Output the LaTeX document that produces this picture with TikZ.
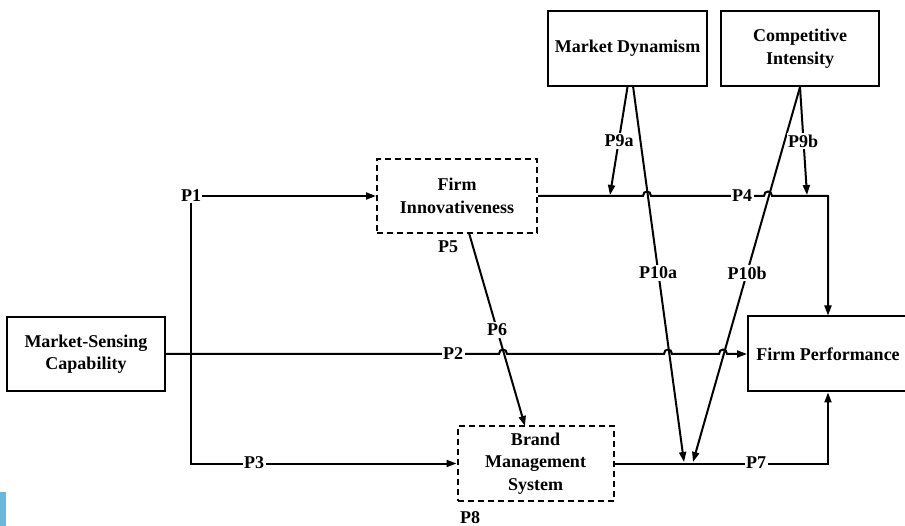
\documentclass[tikz,border=0pt]{standalone}
\usepackage{fontspec}
\setmainfont{Liberation Serif}
\usetikzlibrary{arrows.meta}
\definecolor{sidebar}{HTML}{6CB6DA}
\begin{document}
\begin{tikzpicture}[x=1pt,y=-1pt,
  txt/.style={font=\bfseries\fontsize{18}{22.5}\selectfont},
  box/.style={txt,draw,line width=2pt,align=center,minimum height=75pt,inner sep=0pt},
  dbox/.style={box,dash pattern=on 6pt off 4pt},
  lab/.style={txt,fill=white,inner sep=1.5pt},
  conn/.style={line width=2pt},
  arr/.style={conn,-{Triangle[length=10pt,width=7pt]}}]
\useasboundingbox (0,0) rectangle (905,526);
\clip (0,0) rectangle (905,526);
\fill[white] (0,0) rectangle (905,526);
\fill[sidebar] (0,492) rectangle (6,526);

% boxes
\node[box,minimum width=159pt] (md) at (627.5,48.5) {Market Dynamism};
\node[box,minimum width=158pt] (ci) at (800,48.5) {Competitive\\Intensity};
\node[dbox,minimum width=160pt,minimum height=74pt] (fi) at (457,196) {Firm\\Innovativeness};
\node[box,minimum width=158pt,minimum height=74pt] (ms) at (86,354) {Market-Sensing\\Capability};
\node[box,minimum width=160pt] (fp) at (828,354) {Firm Performance};
\node[dbox,minimum width=156pt] (bms) at (535.5,463.5) {Brand\\Management\\System};

% P1 junction label
\node[txt,inner sep=1pt] (p1) at (191,196) {P1};

% helper coordinates
\coordinate (p6s) at (469,233);
\coordinate (p6e) at (525,426);
\coordinate (p10as) at (633,86);
\coordinate (p10ae) at (684,462);
\coordinate (p10be) at (693,462);
\coordinate (p9at) at (610,195);
\coordinate (p9bt) at (807,195);

% P1 and P3
\draw[arr] (p1.east) -- (p1.east -| fi.west);
\draw[arr] (p1.south) |- (bms.west);

% P2 with hops
\draw[arr] (ms.east) -- (499,354) .. controls (499,348) and (507,348) .. (507,354)
  -- (664,354) .. controls (664,348) and (672,348) .. (672,354)
  -- (719,354) .. controls (719,348) and (727,348) .. (727,354)
  -- (fp.west);

% P4 with hops
\draw[arr] (fi.east) -- (643,196) .. controls (643,190) and (651,190) .. (651,196)
  -- (764,196) .. controls (764,190) and (772,190) .. (772,196)
  -| (fp.north);

% P7
\draw[arr] (bms.east) -| (fp.south);

% P6
\draw[arr] (p6s) -- (p6e);

% moderators
\draw[arr] (md.south) -- (p9at);
\draw[arr] (p10as) -- (p10ae);
\draw[arr] (ci.south) -- (p9bt);
\draw[arr] (ci.south) -- (p10be);

% labels
\node[lab] (p2) at (453,354) {P2};
\node[lab] (p3) at (254,463) {P3};
\node[lab] (p4) at (742,196) {P4};
\node[txt,inner sep=1pt] (p5) at (448,247) {P5};
\node[lab] (p6) at (497,330) {P6};
\node[lab] (p7) at (756,463) {P7};
\node[txt,inner sep=1pt] (p8) at (470,518) {P8};
\node[lab] (p9a) at (619,141) {P9a};
\node[lab] (p9b) at (803,141) {P9b};
\node[lab] (p10a) at (658,273) {P10a};
\node[lab] (p10b) at (747,273) {P10b};
\end{tikzpicture}
\end{document}
